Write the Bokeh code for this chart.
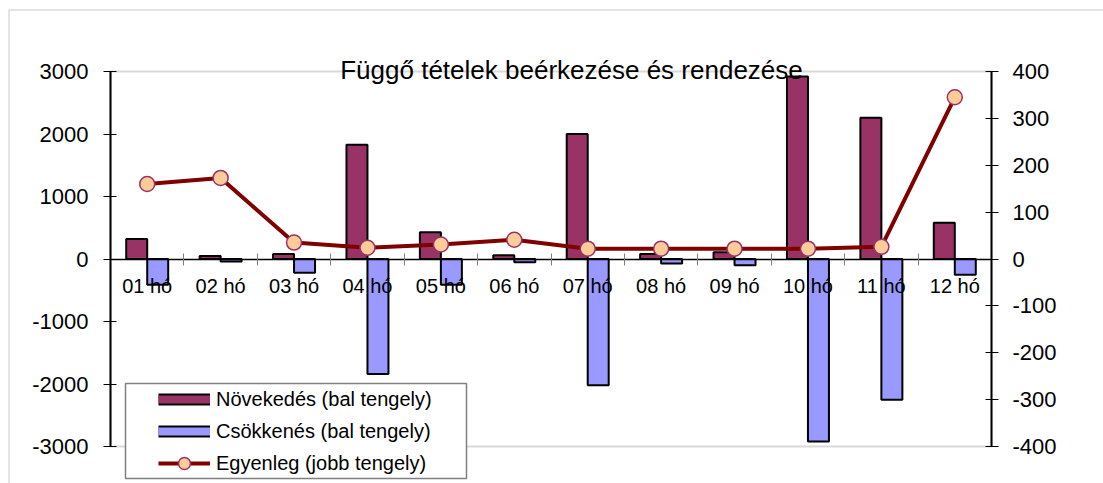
import numpy as np
from bokeh.plotting import figure
from bokeh.models import (ColumnDataSource, Range1d, LinearAxis, FixedTicker, Legend,
                          LegendItem, Label, BoxAnnotation)
from bokeh.embed import file_html
from bokeh.resources import INLINE

# ---- data ----
months = ["01 hó", "02 hó", "03 hó", "04 hó", "05 hó", "06 hó",
          "07 hó", "08 hó", "09 hó", "10 hó", "11 hó", "12 hó"]
novekedes = [320, 50, 80, 1830, 430, 60, 2000, 80, 110, 2920, 2260, 580]
csokkenes = [-410, -40, -220, -1840, -410, -50, -2020, -70, -100, -2920, -2250, -250]
egyenleg = [160, 173, 35, 24, 31, 41, 22, 22, 22, 22, 26, 345]
left_ticks = [-3000, -2000, -1000, 0, 1000, 2000, 3000]
right_ticks = [-400, -300, -200, -100, 0, 100, 200, 300, 400]
title_text = "Függő tételek beérkezése és rendezése"
series_names = ["Növekedés (bal tengely)", "Csökkenés (bal tengely)", "Egyenleg (jobb tengely)"]

# ---- layout (pixels of the canvas) ----
FONT = "Liberation Sans"
W, H = 1103, 483
PL, PR, PT, PB = 110, 991, 71, 446          # plot area edges
n = len(months)
xpp = n / (PR - PL)                           # x data per pixel
ylo, yhi = left_ticks[0], left_ticks[-1]
rlo, rhi = right_ticks[0], right_ticks[-1]
ypp = (yhi - ylo) / (PB - PT)
rpp = (rhi - rlo) / (PB - PT)


def px_x(px):
    return (px - PL) * xpp


def px_y(py):
    return yhi - (py - PT) * ypp


xc = np.arange(n) + 0.5
bar_w = 0.286

src = ColumnDataSource(dict(month=months, x=xc, xn=xc - bar_w / 2, xcs=xc + bar_w / 2,
                            nov=novekedes, csok=csokkenes, egy=egyenleg))

p = figure(width=W, height=H,
           x_range=Range1d(px_x(0), px_x(W)), y_range=Range1d(px_y(H), px_y(0)),
           output_backend="svg", toolbar_location=None,
           min_border_left=0, min_border_right=0, min_border_top=0, min_border_bottom=0)
p.extra_y_ranges = {"right": Range1d(rlo - (H - PB) * rpp, rhi + PT * rpp)}
p.xgrid.visible = False
p.ygrid.visible = False
p.outline_line_color = None
p.background_fill_color = "white"
p.border_fill_color = "white"

# outer chart border (only left/top are inside the window)
p.add_layout(BoxAnnotation(left=px_x(8.5), top=px_y(9.5), right=px_x(W + 20), bottom=px_y(H + 20),
                           fill_alpha=0, line_color="#8c8c8c", line_width=1.5, level="underlay"))
# plot area border
p.add_layout(BoxAnnotation(left=0, right=n, top=yhi, bottom=ylo, fill_alpha=0,
                           line_color="#808080", line_width=2, level="underlay"))

# x axis at zero with ticks between categories
xax = p.xaxis[0]
xax.ticker = FixedTicker(ticks=list(xc), minor_ticks=list(range(n + 1)))
xax.major_label_overrides = {float(x): m for x, m in zip(xc, months)}
xax.fixed_location = 0
xax.bounds = (0, n)
xax.major_tick_line_color = None
xax.major_tick_in = 0
xax.major_tick_out = 0
xax.minor_tick_line_color = "#808080"
xax.minor_tick_in = 6
xax.minor_tick_out = 6
xax.axis_line_color = "black"
xax.axis_line_width = 1.5
xax.major_label_standoff = 10
xax.major_label_text_font = FONT
xax.major_label_text_font_size = "20px"
xax.major_label_text_color = "black"

# left axis
yax = p.yaxis[0]
yax.ticker = FixedTicker(ticks=left_ticks, minor_ticks=[])
yax.major_label_overrides = {t: str(t) for t in left_ticks}
yax.fixed_location = 0
yax.bounds = (ylo, yhi)
yax.major_tick_in = 6
yax.major_tick_out = 7
yax.major_tick_line_color = "black"
yax.minor_tick_line_color = None
yax.axis_line_color = "black"
yax.axis_line_width = 2
yax.major_label_standoff = 15
yax.major_label_text_font = FONT
yax.major_label_text_font_size = "22px"
yax.major_label_text_color = "black"

# right axis
rax = LinearAxis(y_range_name="right", ticker=FixedTicker(ticks=right_ticks, minor_ticks=[]))
rax.major_label_overrides = {t: str(t) for t in right_ticks}
rax.fixed_location = n
rax.bounds = (rlo, rhi)
rax.major_tick_in = 6
rax.major_tick_out = 7
rax.major_tick_line_color = "black"
rax.minor_tick_line_color = None
rax.axis_line_color = "black"
rax.axis_line_width = 2
rax.major_label_standoff = 14
rax.major_label_text_font = FONT
rax.major_label_text_font_size = "22px"
rax.major_label_text_color = "black"
p.add_layout(rax, "right")

# bars
p.vbar(x="xn", top="nov", bottom=0, width=bar_w, source=src,
       fill_color="#993366", line_color="black", line_width=2)
p.vbar(x="xcs", top="csok", bottom=0, width=bar_w, source=src,
       fill_color="#9999FF", line_color="black", line_width=2)

# balance line
ln = p.line("x", "egy", source=src, y_range_name="right", line_color="#800000", line_width=4)
sc = p.scatter("x", "egy", source=src, y_range_name="right", size=15,
               fill_color="#FFCC99", line_color="#993366", line_width=1.5)

# legend proxies (no visible data)
proxy = ColumnDataSource(dict(x=[np.nan], y=[np.nan]))
nb = p.line("x", "y", source=proxy, line_color="black", line_width=12)
nf = p.line("x", "y", source=proxy, line_color="#993366", line_width=8)
cb = p.line("x", "y", source=proxy, line_color="black", line_width=12)
cf = p.line("x", "y", source=proxy, line_color="#9999FF", line_width=8)

# legend box
p.add_layout(BoxAnnotation(left=px_x(125), right=px_x(466), top=px_y(383), bottom=px_y(478),
                           fill_color="white", fill_alpha=1, line_color="#808080",
                           line_width=1.5, line_alpha=1))

legend = Legend(items=[LegendItem(label=series_names[0], renderers=[nb, nf]),
                       LegendItem(label=series_names[1], renderers=[cb, cf]),
                       LegendItem(label=series_names[2], renderers=[ln, sc])],
                location=(158, H - 478), glyph_width=52, glyph_height=30, spacing=2, padding=0,
                margin=0, label_standoff=6, label_text_font=FONT, label_text_font_size="20px",
                label_text_color="black", border_line_color=None, background_fill_alpha=0)
p.add_layout(legend, "center")

# title
p.add_layout(Label(x=px_x(571), y=px_y(69.5), text=title_text, text_align="center",
                   text_baseline="alphabetic", text_font=FONT,
                   text_font_size="26px", text_color="black"))

open("out.html", "w").write(file_html(p, INLINE))
